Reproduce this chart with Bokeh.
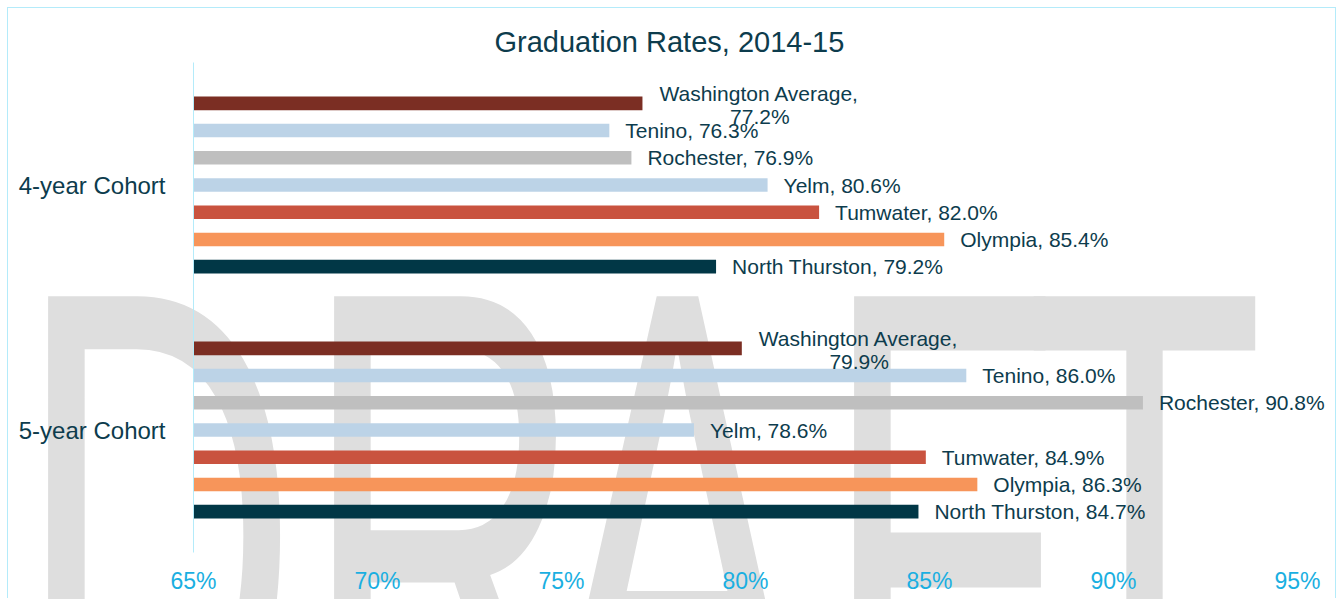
from bokeh.plotting import figure
from bokeh.layouts import column
from bokeh.models import FactorRange, Range1d, FixedTicker, LabelSet, ColumnDataSource, Div
from bokeh.core.properties import value
from bokeh.transform import dodge
from bokeh.embed import file_html
from bokeh.resources import INLINE

# ---------------- data ----------------
chart_title = "Graduation Rates, 2014-15"
cohorts = ["4-year Cohort", "5-year Cohort"]
series = ["Washington Average", "Tenino", "Rochester", "Yelm",
          "Tumwater", "Olympia", "North Thurston"]
rates_4yr = [77.2, 76.3, 76.9, 80.6, 82.0, 85.4, 79.2]
rates_5yr = [79.9, 86.0, 90.8, 78.6, 84.9, 86.3, 84.7]
x_ticks = [65, 70, 75, 80, 85, 90, 95]
x_tick_labels = ["65%", "70%", "75%", "80%", "85%", "90%", "95%"]
watermark = "DRAFT"

# ---------------- style ----------------
colors = ["#7b2e23", "#bcd3e7", "#bfbfbf", "#bcd3e7", "#c9533f", "#f7955a", "#013746"]
FONT = "Liberation Sans"
TEXT = "#0d3c4d"
CYAN = "#1aafe1"
LINE = "#b4ebfa"
WM = "#dedede"
LABEL_PX = 21

PAGE_W, PAGE_H = 1340, 599   # backdrop (watermark) area
W, H = 1329, 591             # chart content size
OX, OY = 8, 8                # chart content origin on the page
X0, X1 = 65, 95
FRAME_L, FRAME_R, FRAME_T, FRAME_B = 193, 1297, 62, 552  # page px of the 65..95 span
PX_PER_X = (FRAME_R - FRAME_L) / (X1 - X0)
X_END = X1 + (OX + W - FRAME_R) / PX_PER_X   # frame runs to the right edge

# rough Arial advance widths for estimating wrapped label width
AW = {"W": .944, "A": .667, "a": .556, "s": .5, "h": .556, "i": .222, "n": .556,
      "g": .556, "t": .278, "o": .556, " ": .278, "v": .5, "e": .556, "r": .333,
      ",": .278, ".": .278, "%": .889}


def text_width(s, size):
    return sum(AW.get(c, .556) for c in s) * size


# ---------------- watermark backdrop (real text, horizontally condensed) ----------------
WM_SIZE, WM_SCALE, WM_TOP = 712, 0.55, 183
wm_left = [16, 302, 546, 822, 1025]
spans = "".join(
    f'<span style="position:absolute;left:{lx}px;top:{WM_TOP}px;font-size:{WM_SIZE}px;'
    f'line-height:1;transform:scaleX({WM_SCALE});transform-origin:0 0;'
    f'white-space:nowrap;">{ch}</span>'
    for ch, lx in zip(watermark, wm_left))
wm = Div(text=(f'<div style="position:relative;z-index:0;width:{PAGE_W}px;height:{PAGE_H}px;'
               f'overflow:hidden;background:white;color:{WM};font-family:\'{FONT}\';">'
               f'{spans}</div>'),
         width=PAGE_W, height=PAGE_H, margin=0)

# ---------------- chart ----------------
p = figure(width=W, height=H,
           x_range=Range1d(X0, X_END),
           y_range=FactorRange(factors=cohorts[::-1], range_padding=0, factor_padding=0),
           output_backend="svg", toolbar_location=None,
           min_border_left=FRAME_L - OX, min_border_right=0,
           min_border_top=FRAME_T - OY, min_border_bottom=OY + H - FRAME_B)
p.styles = {"border": f"1px solid {LINE}", "border-bottom": "none",
            "margin-left": f"{OX - 1}px", "margin-top": f"-{PAGE_H - OY + 1}px",
            "position": "relative", "z-index": "1"}
p.outline_line_color = None
p.xgrid.visible = False
p.ygrid.visible = False
p.background_fill_color = None
p.border_fill_color = None

p.title.text = chart_title
p.title.text_font = FONT
p.title.text_font_size = "29px"
p.title.text_font_style = "normal"
p.title.text_color = TEXT
p.title.align = "left"
p.title.offset = 301

fac_center = {c: len(cohorts) - k - 0.5 for k, c in enumerate(cohorts)}
single = dict(x=[], y=[], text=[])
line1 = dict(x=[], y=[], text=[])
line2 = dict(x=[], y=[], text=[], xo=[])
for i, name in enumerate(series):
    vals = [rates_4yr[i], rates_5yr[i]]
    off = (3 - i) / 9
    src = ColumnDataSource(dict(cohort=cohorts, value=vals))
    p.hbar(y=dodge("cohort", off, range=p.y_range), left=X0, right="value",
           height=0.5 / 9, fill_color=colors[i], line_color=None, source=src)
    for c, v in zip(cohorts, vals):
        yy = fac_center[c] + off
        if len(name) > 16:
            l1 = f"{name},"
            line1["x"].append(v); line1["y"].append(yy); line1["text"].append(l1)
            line2["x"].append(v); line2["y"].append(yy); line2["text"].append(f"{v:.1f}%")
            line2["xo"].append(17 + text_width(l1, LABEL_PX) / 2)
        else:
            single["x"].append(v); single["y"].append(yy)
            single["text"].append(f"{name}, {v:.1f}%")

common = dict(text_font=value(FONT), text_font_size=f"{LABEL_PX}px",
              text_color=TEXT, text_baseline="middle")
p.add_layout(LabelSet(x="x", y="y", text="text", source=ColumnDataSource(single),
                      x_offset=16, y_offset=0, text_align="left", **common))
p.add_layout(LabelSet(x="x", y="y", text="text", source=ColumnDataSource(line1),
                      x_offset=17, y_offset=10, text_align="left", **common))
p.add_layout(LabelSet(x="x", y="y", text="text", source=ColumnDataSource(line2),
                      x_offset="xo", y_offset=-13, text_align="center", **common))

xa = p.xaxis[0]
xa.ticker = FixedTicker(ticks=x_ticks)
xa.major_label_overrides = {t: l for t, l in zip(x_ticks, x_tick_labels)}
xa.axis_line_color = None
xa.major_tick_line_color = None
xa.minor_tick_line_color = None
xa.major_tick_out = 0
xa.major_label_standoff = 15
xa.major_label_text_font = FONT
xa.major_label_text_font_size = "23px"
xa.major_label_text_color = CYAN

ya = p.yaxis[0]
ya.axis_line_color = LINE
ya.axis_line_width = 1
ya.major_tick_line_color = None
ya.minor_tick_line_color = None
ya.major_tick_out = 0
ya.major_label_standoff = 28
ya.major_label_text_font = FONT
ya.major_label_text_font_size = "24px"
ya.major_label_text_color = TEXT

layout = column(wm, p)
open("out.html", "w").write(file_html(layout, INLINE))
